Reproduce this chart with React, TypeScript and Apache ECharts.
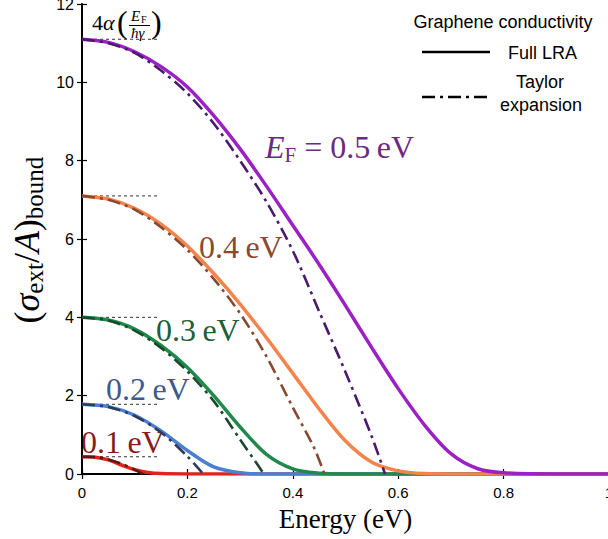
import React, { useEffect, useRef } from "react";
import * as echarts from "echarts";

// ---- data ----
const xTickValues = [0, 0.2, 0.4, 0.6, 0.8, 1];
const yTickValues = [0, 2, 4, 6, 8, 10, 12];

// Full LRA curves
const E05 = [0, 0.05, 0.1, 0.15, 0.2, 0.25, 0.3, 0.35, 0.4, 0.45, 0.5, 0.55, 0.6, 0.65, 0.7, 0.75, 0.8, 0.9, 1.0];
const V05 = [11.1, 11.02, 10.78, 10.4, 9.88, 9.15, 8.3, 7.35, 6.35, 5.35, 4.3, 3.22, 2.18, 1.25, 0.52, 0.14, 0.03, 0, 0];
const E04 = [0, 0.05, 0.1, 0.15, 0.2, 0.25, 0.3, 0.35, 0.4, 0.45, 0.5, 0.55, 0.6, 0.65, 0.7, 0.8, 1.0];
const V04 = [7.1, 7.02, 6.78, 6.38, 5.82, 5.12, 4.34, 3.48, 2.57, 1.66, 0.84, 0.3, 0.08, 0.01, 0, 0, 0];
const E03 = [0, 0.05, 0.1, 0.15, 0.2, 0.25, 0.3, 0.35, 0.4, 0.45, 0.5, 0.6, 1.0];
const V03 = [4.0, 3.93, 3.7, 3.28, 2.72, 2.0, 1.2, 0.5, 0.13, 0.02, 0, 0, 0];
const E02 = [0, 0.05, 0.1, 0.15, 0.2, 0.25, 0.3, 0.35, 0.45, 1.0];
const V02 = [1.78, 1.72, 1.5, 1.1, 0.6, 0.18, 0.03, 0, 0, 0];
const E01 = [0, 0.025, 0.05, 0.075, 0.1, 0.125, 0.15, 0.2, 0.3, 1.0];
const V01 = [0.44, 0.43, 0.36, 0.23, 0.11, 0.04, 0.01, 0, 0, 0];

// Taylor expansion curves
const T05E = [0, 0.05, 0.1, 0.15, 0.2, 0.25, 0.3, 0.35, 0.4, 0.45, 0.5, 0.55, 0.575];
const T05V = [11.1, 11.0, 10.75, 10.3, 9.72, 8.95, 8.0, 6.95, 5.7, 4.15, 2.6, 0.95, 0];
const T04E = [0, 0.05, 0.1, 0.15, 0.2, 0.25, 0.3, 0.35, 0.4, 0.44, 0.46];
const T04V = [7.1, 7.0, 6.75, 6.3, 5.72, 4.98, 4.1, 3.0, 1.7, 0.68, 0];
const T03E = [0, 0.05, 0.1, 0.15, 0.2, 0.25, 0.3, 0.33, 0.345];
const T03V = [4.0, 3.92, 3.66, 3.22, 2.62, 1.86, 0.88, 0.3, 0];
const T02E = [0, 0.05, 0.1, 0.15, 0.2, 0.23];
const T02V = [1.78, 1.71, 1.48, 1.06, 0.45, 0];
const T01E = [0, 0.025, 0.05, 0.075, 0.1, 0.115];
const T01V = [0.44, 0.43, 0.37, 0.26, 0.11, 0];

// asymptote reference levels 4α(E_F/ħγ)
const refLevels = [11.1, 7.1, 4.0, 1.78, 0.44];
const refEnd = 0.148;

const SERIF = "'Liberation Serif', 'Times New Roman', serif";
const SANS = "'Liberation Sans', Arial, Helvetica, sans-serif";

const zip = (xs: number[], ys: number[]) => xs.map((x, i) => [x, ys[i]]);

const solidCurves = [
  { name: "LRA 0.1", e: E01, v: V01, color: "#E2231C" },
  { name: "LRA 0.2", e: E02, v: V02, color: "#4A80D4" },
  { name: "LRA 0.3", e: E03, v: V03, color: "#1F8A4B" },
  { name: "LRA 0.4", e: E04, v: V04, color: "#F5834C" },
  { name: "LRA 0.5", e: E05, v: V05, color: "#9B21C4" },
];
const taylorCurves = [
  { name: "Taylor 0.1", e: T01E, v: T01V, color: "#5E1717" },
  { name: "Taylor 0.2", e: T02E, v: T02V, color: "#2D3C5C" },
  { name: "Taylor 0.3", e: T03E, v: T03V, color: "#1A4A2D" },
  { name: "Taylor 0.4", e: T04E, v: T04V, color: "#874A30" },
  { name: "Taylor 0.5", e: T05E, v: T05V, color: "#4B1A6B" },
];

const DASHDOT = [13, 5, 3, 5];

export default function App() {
  const ref = useRef<HTMLDivElement>(null);
  useEffect(() => {
    if (!ref.current) return;
    const chart = echarts.init(ref.current, null, { renderer: "svg" });

    const series: any[] = [];
    refLevels.forEach((lv, i) => {
      series.push({
        name: "ref" + i,
        type: "line",
        data: [[0, lv], [refEnd, lv]],
        showSymbol: false,
        silent: true,
        lineStyle: { color: "#333", width: 1, type: [3, 3] },
        z: 1,
      });
    });
    solidCurves.forEach((c) => {
      series.push({
        name: c.name,
        type: "line",
        data: zip(c.e, c.v),
        showSymbol: false,
        smooth: 0.3,
        lineStyle: { color: c.color, width: 3.5 },
        z: 3,
      });
    });
    taylorCurves.forEach((c) => {
      series.push({
        name: c.name,
        type: "line",
        data: zip(c.e, c.v),
        showSymbol: false,
        smooth: 0.3,
        lineStyle: { color: c.color, width: 2.6, type: DASHDOT },
        z: 4,
      });
    });

    const labelRich = (color: string) => ({
      n: { fontFamily: SERIF, fontSize: 32, fill: color, lineHeight: 36 },
      i: { fontFamily: SERIF, fontSize: 32, fontStyle: "italic", fill: color, lineHeight: 36 },
      s: { fontFamily: SERIF, fontSize: 21, fill: color, verticalAlign: "bottom", lineHeight: 22 },
    });

    const option: any = {
      animation: false,
      grid: { left: 82, top: 4, width: 527, height: 470, containLabel: false, outerBoundsMode: "none" },
      xAxis: [
        {
          type: "value",
          position: "bottom",
          min: 0,
          max: 1,
          interval: 0.2,
          splitLine: { show: false },
          axisLine: { lineStyle: { color: "#000", width: 2 } },
          axisTick: { inside: true, length: 5, lineStyle: { color: "#000", width: 1.2 } },
          axisLabel: {
            color: "#000",
            fontFamily: SANS,
            fontSize: 15,
            margin: 11,
            hideOverlap: false,
            formatter: (v: number) => {
              const t = xTickValues.find((x) => Math.abs(x - v) < 1e-9);
              return t === undefined ? "" : String(t);
            },
          },
          name: "Energy (eV)",
          nameLocation: "middle",
          nameGap: 31,
          nameTextStyle: { fontFamily: SERIF, fontSize: 27, color: "#000" },
        },
        {
          type: "value",
          position: "top",
          min: 0,
          max: 1,
          interval: 0.2,
          splitLine: { show: false },
          axisLine: { lineStyle: { color: "#000", width: 1.5 } },
          axisTick: { inside: true, length: 5, lineStyle: { color: "#000", width: 1.2 } },
          axisLabel: { show: false },
        },
      ],
      yAxis: [
        {
          type: "value",
          position: "left",
          min: 0,
          max: 12,
          interval: 2,
          splitLine: { show: false },
          axisLine: { lineStyle: { color: "#000", width: 2 } },
          axisTick: { inside: true, length: 5, lineStyle: { color: "#000", width: 1.2 } },
          axisLabel: {
            color: "#000",
            fontFamily: SANS,
            fontSize: 16,
            margin: 8,
            formatter: (v: number) => {
              const t = yTickValues.find((x) => Math.abs(x - v) < 1e-9);
              return t === undefined ? "" : String(t);
            },
          },
        },
        {
          type: "value",
          position: "right",
          min: 0,
          max: 12,
          interval: 2,
          splitLine: { show: false },
          axisLine: { lineStyle: { color: "#000", width: 1.5 } },
          axisTick: { inside: true, length: 5, lineStyle: { color: "#000", width: 1.2 } },
          axisLabel: { show: false },
        },
      ],
      series,
      graphic: [
        // y axis title
        {
          type: "text",
          x: 27,
          y: 240,
          rotation: Math.PI / 2,
          style: {
            text: "{n|(}{i|σ}{s|ext}{n|/}{i|A}{n|)}{s|bound}",
            align: "center",
            verticalAlign: "middle",
            rich: {
              n: { fontFamily: SERIF, fontSize: 36, fill: "#000", lineHeight: 40 },
              i: { fontFamily: SERIF, fontSize: 36, fontStyle: "italic", fill: "#000", lineHeight: 40 },
              s: { fontFamily: SERIF, fontSize: 25, fill: "#000", verticalAlign: "bottom", lineHeight: 25 },
            },
          },
        },
        // curve labels
        {
          type: "text",
          x: 265,
          y: 147,
          style: {
            text: "{i|E}{s|F}{n| = 0.5\u2009eV}",
            verticalAlign: "middle",
            rich: labelRich("#6C2A82"),
          },
        },
        {
          type: "text",
          x: 199,
          y: 247,
          style: { text: "0.4\u2009eV", fontFamily: SERIF, fontSize: 32, fill: "#8A4A2E", verticalAlign: "middle" },
        },
        {
          type: "text",
          x: 156,
          y: 330,
          style: { text: "0.3\u2009eV", fontFamily: SERIF, fontSize: 32, fill: "#1E5E39", verticalAlign: "middle" },
        },
        {
          type: "text",
          x: 106,
          y: 389,
          style: { text: "0.2\u2009eV", fontFamily: SERIF, fontSize: 32, fill: "#3B5A8E", verticalAlign: "middle" },
        },
        {
          type: "text",
          x: 81,
          y: 442,
          style: { text: "0.1\u2009eV", fontFamily: SERIF, fontSize: 32, fill: "#8A1B1B", verticalAlign: "middle" },
        },
        // 4α(E_F/ħγ) annotation
        { type: "text", x: 92, y: 22, style: { text: "4", fontFamily: SERIF, fontSize: 22, fill: "#000", verticalAlign: "middle" } },
        { type: "text", x: 103, y: 22, style: { text: "α", fontFamily: SERIF, fontStyle: "italic", fontSize: 22, fill: "#000", verticalAlign: "middle" } },
        { type: "text", x: 117, y: 22, style: { text: "(", fontFamily: SERIF, fontSize: 32, fill: "#000", verticalAlign: "middle" } },
        { type: "text", x: 131, y: 16, style: { text: "E", fontFamily: SERIF, fontStyle: "italic", fontSize: 15, fill: "#000", verticalAlign: "middle" } },
        { type: "text", x: 141, y: 19, style: { text: "F", fontFamily: SERIF, fontSize: 10, fill: "#000", verticalAlign: "middle" } },
        { type: "line", shape: { x1: 129, y1: 25.5, x2: 150, y2: 25.5 }, style: { stroke: "#000", lineWidth: 1 } },
        { type: "text", x: 131, y: 33, style: { text: "ħγ", fontFamily: SERIF, fontStyle: "italic", fontSize: 15, fill: "#000", verticalAlign: "middle" } },
        { type: "text", x: 151, y: 22, style: { text: ")", fontFamily: SERIF, fontSize: 32, fill: "#000", verticalAlign: "middle" } },
        // legend
        { type: "text", x: 503, y: 22, style: { text: "Graphene conductivity", fontFamily: SANS, fontSize: 18, fill: "#000", align: "center", verticalAlign: "middle" } },
        { type: "line", shape: { x1: 422, y1: 52, x2: 490, y2: 52 }, style: { stroke: "#000", lineWidth: 2.5 } },
        { type: "text", x: 508, y: 53, style: { text: "Full LRA", fontFamily: SANS, fontSize: 18, fill: "#000", verticalAlign: "middle" } },
        { type: "line", shape: { x1: 422, y1: 97, x2: 490, y2: 97 }, style: { stroke: "#000", lineWidth: 2.5, lineDash: DASHDOT } },
        { type: "text", x: 540, y: 82, style: { text: "Taylor", fontFamily: SANS, fontSize: 18, fill: "#000", align: "center", verticalAlign: "middle" } },
        { type: "text", x: 541, y: 105, style: { text: "expansion", fontFamily: SANS, fontSize: 18, fill: "#000", align: "center", verticalAlign: "middle" } },
      ],
    };

    chart.setOption(option);
    return () => chart.dispose();
  }, []);

  return (
    <div
      ref={ref}
      style={{ position: "fixed", left: 0, top: 0, width: 608, height: 539, background: "#fff" }}
    />
  );
}
